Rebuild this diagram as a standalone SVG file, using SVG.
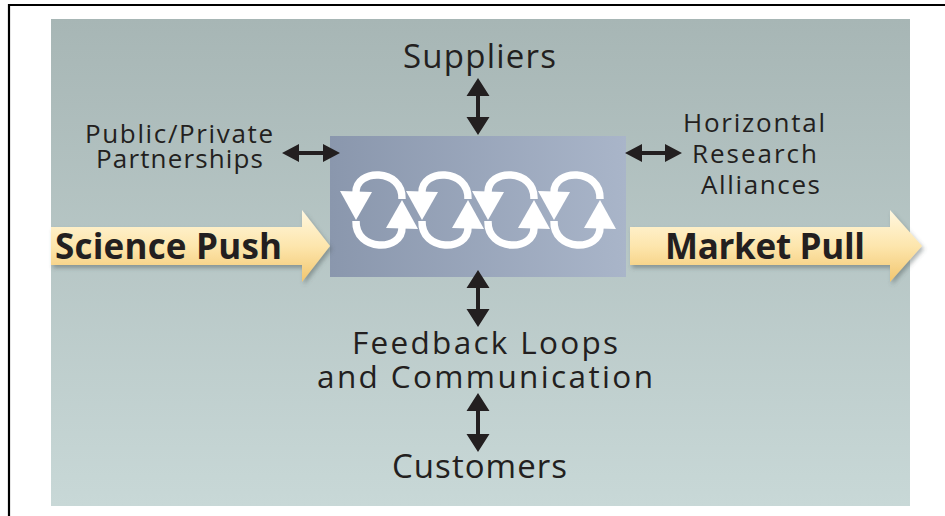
<svg xmlns="http://www.w3.org/2000/svg" xmlns:xlink="http://www.w3.org/1999/xlink" width="945" height="516" viewBox="0 0 945 516">
  <defs>
    <linearGradient id="panelGrad" x1="0" y1="0" x2="0" y2="1">
      <stop offset="0" stop-color="#a7b6b5"/>
      <stop offset="1" stop-color="#c8d8d7"/>
    </linearGradient>
    <linearGradient id="boxGrad" x1="0" y1="0" x2="1" y2="0">
      <stop offset="0" stop-color="#8a97ad"/>
      <stop offset="1" stop-color="#a9b5c9"/>
    </linearGradient>
    <linearGradient id="yellowGrad" x1="0" y1="0" x2="0" y2="1">
      <stop offset="0" stop-color="#fff7e0"/>
      <stop offset="0.5" stop-color="#fde6ad"/>
      <stop offset="1" stop-color="#f2c66f"/>
    </linearGradient>
    <filter id="shadow" x="-10%" y="-30%" width="120%" height="160%">
      <feDropShadow dx="2" dy="3" stdDeviation="2" flood-color="#4a5656" flood-opacity="0.45"/>
    </filter>
    <g id="loop">
      <path d="M23,-11 C24,-42 -24,-42 -23,-17 M-23,11 C-24,42 24,42 23,17" fill="none" stroke="#ffffff" stroke-width="7.5"/>
      <polygon points="-39,-19 -7,-18 -23,10" fill="#ffffff"/>
      <polygon points="39,19 7,18 23,-10" fill="#ffffff"/>
    </g>
  </defs>
  <style>
    .lbl { font-family: "Open Sans", "Liberation Sans", sans-serif; fill: #231f20; font-size: 33px; }
    .md { font-size: 31.5px; }
    .sm { font-size: 26px; }
    .bold { font-weight: bold; font-size: 35px; }
    .dbl { fill: #231f20; }
    .yarrow { fill: url(#yellowGrad); filter: url(#shadow); }
  </style>

  <rect x="0" y="0" width="945" height="516" fill="#ffffff"/>
  <path d="M9,516 V5 H945" fill="none" stroke="#000000" stroke-width="2.2"/>
  <rect id="panel" x="51" y="19" width="859" height="487" fill="url(#panelGrad)"/>

  <g id="center-box">
    <rect x="330" y="136" width="296" height="141" fill="url(#boxGrad)"/>
    <use xlink:href="#loop" href="#loop" x="379" y="210"/>
    <use xlink:href="#loop" href="#loop" x="445" y="210"/>
    <use xlink:href="#loop" href="#loop" x="511" y="210"/>
    <use xlink:href="#loop" href="#loop" x="577" y="210"/>
  </g>

  <g id="science-push">
    <polygon class="yarrow" points="51,227 302,227 302,210 330,246 302,282 302,265 51,265"/>
    <text class="lbl bold" x="55" y="259" textLength="227">Science Push</text>
  </g>

  <g id="market-pull">
    <polygon class="yarrow" points="630,227 890,227 890,210 922,246 890,282 890,265 630,265"/>
    <text class="lbl bold" x="665" y="259" textLength="200">Market Pull</text>
  </g>

  <g id="suppliers">
    <text class="lbl" x="403" y="68" textLength="153">Suppliers</text>
  </g>

  <g id="public-private">
    <text class="lbl sm" x="85" y="143" textLength="188">Public/Private</text>
    <text class="lbl sm" x="96" y="168" textLength="167">Partnerships</text>
  </g>

  <g id="horizontal-research">
    <text class="lbl sm" x="683" y="132" textLength="142">Horizontal</text>
    <text class="lbl sm" x="692" y="163" textLength="125">Research</text>
    <text class="lbl sm" x="701" y="194" textLength="119">Alliances</text>
  </g>

  <g id="feedback">
    <text class="lbl md" x="352" y="354" textLength="266">Feedback Loops</text>
    <text class="lbl md" x="317" y="388" textLength="336">and Communication</text>
  </g>

  <g id="customers">
    <text class="lbl" x="392" y="478" textLength="175">Customers</text>
  </g>

  <g id="connectors">
    <polygon class="dbl" points="478,78 489.5,96 480,96 480,117 489.5,117 478,135 466.5,117 476,117 476,96 466.5,96"/>
    <polygon class="dbl" points="478,270 489.5,288 480,288 480,309 489.5,309 478,327 466.5,309 476,309 476,288 466.5,288"/>
    <polygon class="dbl" points="478,393 489.5,411 480,411 480,434 489.5,434 478,452 466.5,434 476,434 476,411 466.5,411"/>
    <polygon class="dbl" points="282,153 299,144 299,151 323,151 323,144 340,153 323,162 323,155 299,155 299,162"/>
    <polygon class="dbl" points="625,153 642,144 642,151 665,151 665,144 682,153 665,162 665,155 642,155 642,162"/>
  </g>
</svg>
